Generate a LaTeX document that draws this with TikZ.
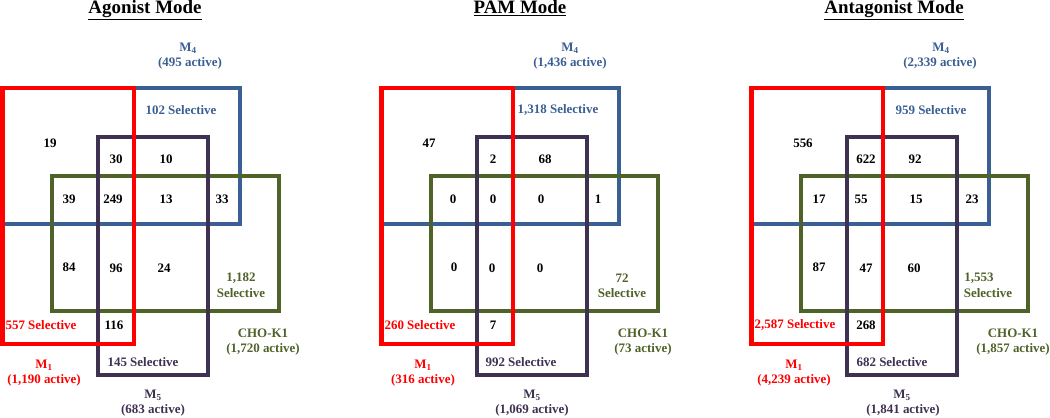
\documentclass[tikz,border=0pt]{standalone}
\usepackage{fontspec}
\setmainfont{Liberation Serif}
\definecolor{mred}{HTML}{FF0000}
\definecolor{mblue}{HTML}{3A5F93}
\definecolor{mgreen}{HTML}{4F6228}
\definecolor{mpurple}{HTML}{3F3151}
\tikzset{
  box/.style={line width=4.5, line join=miter},
  txt/.style={inner sep=0pt, font=\fontsize{13}{15}\selectfont\bfseries, text=black},
  ttl/.style={inner sep=0pt, anchor=base, font=\fontsize{19}{21}\selectfont\bfseries, text=black},
}
\newcommand{\panelboxes}{%
  \draw[box, mblue] (2.7,88) rectangle (240,224);
  \draw[box, mgreen] (52,176) rectangle (279,311);
  \draw[box, mpurple] (98,137) rectangle (208,375);
  \draw[box, mred] (2.7,88) rectangle (134,344);
}
\begin{document}
\begin{tikzpicture}[x=1bp, y=-1bp]
\useasboundingbox (0,0) rectangle (1050,417);
% ---------------- Agonist ----------------
\begin{scope}[name prefix=a-]
\panelboxes
\node[ttl] (title) at (145,13.5) {\underline{Agonist Mode}};
\node[txt, text=mblue] (m4) at (188,48) {M\textsubscript{4}};
\node[txt, text=mblue] (m4a) at (190,63) {(495 active)};
\node[txt, text=mblue] (m4s) at (181,110) {102 Selective};
\node[txt] (r1) at (50,143) {19};
\node[txt] (r2) at (116,159) {30};
\node[txt] (r3) at (166,159) {10};
\node[txt] (r4) at (69,199) {39};
\node[txt] (r5) at (113,199) {249};
\node[txt] (r6) at (166,199) {13};
\node[txt] (r7) at (222,199) {33};
\node[txt] (r8) at (69,267) {84};
\node[txt] (r9) at (116,268) {96};
\node[txt] (r10) at (164,268) {24};
\node[txt, text=mgreen] (gs1) at (241,278) {1,182};
\node[txt, text=mgreen] (gs2) at (241,293) {Selective};
\node[txt, text=mred] (m1s) at (41,325) {557 Selective};
\node[txt] (r11) at (114,325) {116};
\node[txt, text=mpurple] (m5s) at (143,362) {145 Selective};
\node[txt, text=mred] (m1) at (44,365) {M\textsubscript{1}};
\node[txt, text=mred] (m1a) at (44,380) {(1,190 active)};
\node[txt, text=mpurple] (m5) at (153,395) {M\textsubscript{5}};
\node[txt, text=mpurple] (m5a) at (153,410) {(683 active)};
\node[txt, text=mgreen] (cho) at (263,333) {CHO-K1};
\node[txt, text=mgreen] (choa) at (263,349) {(1,720 active)};
\end{scope}
% ---------------- PAM ----------------
\begin{scope}[shift={(379,0)}, name prefix=p-]
\panelboxes
\node[ttl] (title) at (141,13.5) {\underline{PAM Mode}};
\node[txt, text=mblue] (m4) at (191,48) {M\textsubscript{4}};
\node[txt, text=mblue] (m4a) at (191,63) {(1,436 active)};
\node[txt, text=mblue] (m4s) at (179,110) {1,318 Selective};
\node[txt] (r1) at (50,143) {47};
\node[txt] (r2) at (114,159) {2};
\node[txt] (r3) at (166,159) {68};
\node[txt] (r4) at (74,199) {0};
\node[txt] (r5) at (114,199) {0};
\node[txt] (r6) at (162,199) {0};
\node[txt] (r7) at (219,199) {1};
\node[txt] (r8) at (75,267) {0};
\node[txt] (r9) at (113,268) {0};
\node[txt] (r10) at (161,268) {0};
\node[txt, text=mgreen] (gs1) at (243,278) {72};
\node[txt, text=mgreen] (gs2) at (243,293) {Selective};
\node[txt, text=mred] (m1s) at (41,325) {260 Selective};
\node[txt] (r11) at (114,325) {7};
\node[txt, text=mpurple] (m5s) at (142,362) {992 Selective};
\node[txt, text=mred] (m1) at (44,365) {M\textsubscript{1}};
\node[txt, text=mred] (m1a) at (44,380) {(316 active)};
\node[txt, text=mpurple] (m5) at (153,395) {M\textsubscript{5}};
\node[txt, text=mpurple] (m5a) at (153,410) {(1,069 active)};
\node[txt, text=mgreen] (cho) at (264,333) {CHO-K1};
\node[txt, text=mgreen] (choa) at (264,349) {(73 active)};
\end{scope}
% ---------------- Antagonist ----------------
\begin{scope}[shift={(749,0)}, name prefix=n-]
\panelboxes
\node[ttl] (title) at (145,13.5) {\underline{Antagonist Mode}};
\node[txt, text=mblue] (m4) at (192,48) {M\textsubscript{4}};
\node[txt, text=mblue] (m4a) at (191,63) {(2,339 active)};
\node[txt, text=mblue] (m4s) at (182,110) {959 Selective};
\node[txt] (r1) at (54,143) {556};
\node[txt] (r2) at (117,159) {622};
\node[txt] (r3) at (166,159) {92};
\node[txt] (r4) at (70,199) {17};
\node[txt] (r5) at (112,199) {55};
\node[txt] (r6) at (167,199) {15};
\node[txt] (r7) at (223,199) {23};
\node[txt] (r8) at (70,267) {87};
\node[txt] (r9) at (117,268) {47};
\node[txt] (r10) at (165,268) {60};
\node[txt, text=mgreen] (gs1) at (230,278) {1,553};
\node[txt, text=mgreen] (gs2) at (239,293) {Selective};
\node[txt, text=mred] (m1s) at (46,325) {2,587 Selective};
\node[txt] (r11) at (117,325) {268};
\node[txt, text=mpurple] (m5s) at (143,362) {682 Selective};
\node[txt, text=mred] (m1) at (45,365) {M\textsubscript{1}};
\node[txt, text=mred] (m1a) at (45,380) {(4,239 active)};
\node[txt, text=mpurple] (m5) at (153,395) {M\textsubscript{5}};
\node[txt, text=mpurple] (m5a) at (154,410) {(1,841 active)};
\node[txt, text=mgreen] (cho) at (264,333) {CHO-K1};
\node[txt, text=mgreen] (choa) at (264,349) {(1,857 active)};
\end{scope}
\end{tikzpicture}
\end{document}
